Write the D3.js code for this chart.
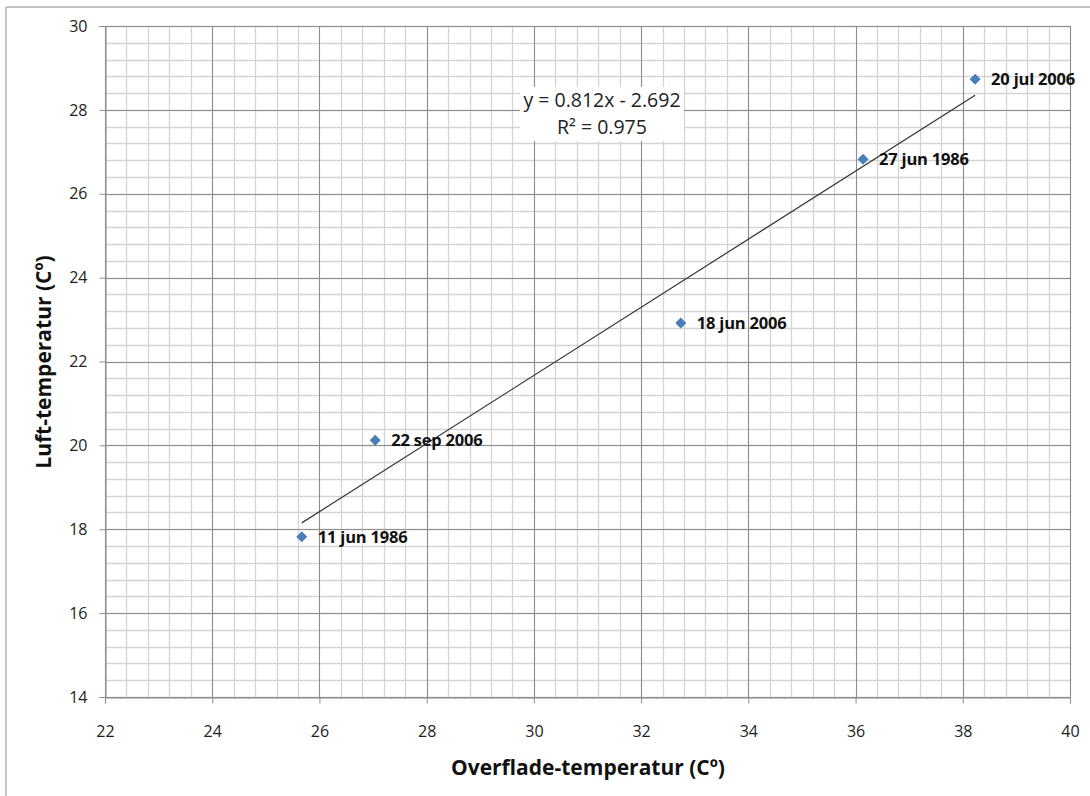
<!DOCTYPE html>
<html><head><meta charset="utf-8">
<script src="https://cdn.jsdelivr.net/npm/d3@7"></script>
<style>body{margin:0;background:#fff}svg{display:block}</style>
</head><body>
<svg id="c" width="1090" height="796"></svg>
<script>
const labels = ["11 jun 1986","22 sep 2006","18 jun 2006","27 jun 1986","20 jul 2006"];
const xValues = [25.67, 27.04, 32.74, 36.14, 38.23];
const yValues = [17.82, 20.12, 22.92, 26.82, 28.73];
const xTicks = [22,24,26,28,30,32,34,36,38,40];
const yTicks = [14,16,18,20,22,24,26,28,30];
const slope = 0.812, intercept = -2.692;
const eqText = "y = 0.812x - 2.692";
const r2Text = "R² = 0.975";

const svg = d3.select("#c");
const L=105,R=1070,T=26,B=697;
const x = d3.scaleLinear().domain([22,40]).range([L,R]);
const y = d3.scaleLinear().domain([14,30]).range([B,T]);
const font = "'Open Sans', 'Noto Sans', sans-serif";

// outer frame lines
svg.append("line").attr("x1",6).attr("x2",1090).attr("y1",7).attr("y2",7).attr("stroke","#b0b0b0").attr("stroke-width",1.5);
svg.append("line").attr("x1",6).attr("x2",6).attr("y1",7).attr("y2",796).attr("stroke","#b0b0b0").attr("stroke-width",1.5);

// minor grid
const minorX = d3.range(22,40.001,0.4).map(v=>+v.toFixed(2));
const minorY = d3.range(14,30.001,0.4).map(v=>+v.toFixed(2));
const g = svg.append("g");
g.selectAll(".mx").data(minorX).enter().append("line")
 .attr("x1",d=>Math.round(x(d))+0.5).attr("x2",d=>Math.round(x(d))+0.5).attr("y1",T).attr("y2",B)
 .attr("stroke","#d4d4d4").attr("stroke-width",1.3);
g.selectAll(".my").data(minorY).enter().append("line")
 .attr("y1",d=>Math.round(y(d))+0.5).attr("y2",d=>Math.round(y(d))+0.5).attr("x1",L).attr("x2",R)
 .attr("stroke","#d4d4d4").attr("stroke-width",1.3);
// major grid
g.selectAll(".Mx").data(xTicks).enter().append("line")
 .attr("x1",d=>Math.round(x(d))+0.5).attr("x2",d=>Math.round(x(d))+0.5).attr("y1",T).attr("y2",B)
 .attr("stroke","#8c8c8c").attr("stroke-width",1);
g.selectAll(".My").data(yTicks).enter().append("line")
 .attr("y1",d=>Math.round(y(d))+0.5).attr("y2",d=>Math.round(y(d))+0.5).attr("x1",L).attr("x2",R)
 .attr("stroke","#8c8c8c").attr("stroke-width",1);

// axes
const xAxis = svg.append("g").attr("transform",`translate(0,${B+0.5})`)
 .call(d3.axisBottom(x).tickValues(xTicks).tickSize(6).tickPadding(22).tickFormat(d3.format("d")));
const yAxis = svg.append("g").attr("transform",`translate(${L+0.5},0)`)
 .call(d3.axisLeft(y).tickValues(yTicks).tickSize(6).tickPadding(12).tickFormat(d3.format("d")));
[xAxis,yAxis].forEach(a=>{
  a.select(".domain").attr("stroke","#8c8c8c");
  a.selectAll(".tick line").attr("stroke","#8c8c8c");
  a.selectAll("text").attr("font-family",font).attr("font-size",16).attr("fill","#222");
});

// trendline
const xmin = d3.min(xValues), xmax = d3.max(xValues);
svg.append("line").attr("x1",x(xmin)).attr("y1",y(slope*xmin+intercept))
 .attr("x2",x(xmax)).attr("y2",y(slope*xmax+intercept))
 .attr("stroke","#333").attr("stroke-width",1.2);

// equation box
svg.append("rect").attr("x",520).attr("y",87).attr("width",164).attr("height",54).attr("fill","#fff");
svg.append("text").attr("x",602).attr("y",107).attr("text-anchor","middle").attr("font-family",font).attr("font-size",19.5).attr("fill","#222").text(eqText);
svg.append("text").attr("x",602).attr("y",134).attr("text-anchor","middle").attr("font-family",font).attr("font-size",19.5).attr("fill","#222").text(r2Text);

// points
const pts = xValues.map((v,i)=>({x:v,y:yValues[i],l:labels[i]}));
svg.selectAll(".pt").data(pts).enter().append("path")
 .attr("d","M0,-5.5L5.5,0L0,5.5L-5.5,0Z")
 .attr("transform",d=>`translate(${x(d.x)},${y(d.y)})`)
 .attr("fill","#4a7ebb");
svg.selectAll(".lb").data(pts).enter().append("text")
 .attr("x",d=>x(d.x)+16).attr("y",d=>y(d.y)+6)
 .attr("font-family",font).attr("font-size",16.5).attr("font-weight","bold").attr("fill","#111")
 .attr("letter-spacing","-0.2").text(d=>d.l);

// axis titles
svg.append("text").attr("x",588).attr("y",775).attr("text-anchor","middle").attr("font-family",font).attr("font-size",21).attr("font-weight","bold").attr("fill","#111").text("Overflade-temperatur (Cº)");
svg.append("text").attr("transform","translate(51,362) rotate(-90)").attr("text-anchor","middle").attr("font-family",font).attr("font-size",21).attr("font-weight","bold").attr("fill","#111").text("Luft-temperatur (Cº)");
</script>
</body></html>
